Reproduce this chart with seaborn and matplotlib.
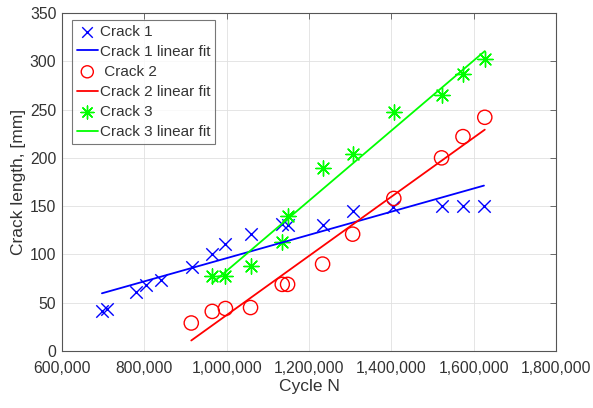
import numpy as np
import pandas as pd
import matplotlib
matplotlib.use("Agg")
import matplotlib.pyplot as plt
import matplotlib.ticker as mticker
import seaborn as sns

crack1_n = [697000, 710000, 780000, 804000, 841000, 916000, 965000, 997000, 1060000,
            1135000, 1148000, 1233000, 1306000, 1403000, 1522000, 1574000, 1625000]
crack1_len = [41, 43, 61, 68, 74, 87, 100, 111, 121, 131, 130, 130, 145, 149, 150, 150, 150]

crack2_n = [914000, 965000, 997000, 1058000, 1135000, 1148000, 1233000, 1306000,
            1406000, 1522000, 1574000, 1627000]
crack2_len = [29, 41, 44, 45, 69, 69, 90, 121, 158, 200, 222, 242]

crack3_n = [965000, 997000, 1060000, 1135000, 1148000, 1233000, 1306000, 1406000,
            1522000, 1574000, 1627000]
crack3_len = [78, 78, 88, 113, 140, 190, 204, 247, 265, 287, 302]

x_ticks = [600000, 800000, 1000000, 1200000, 1400000, 1600000, 1800000]
y_ticks = [0, 50, 100, 150, 200, 250, 300, 350]

sns.set_theme(style="white")
plt.rcParams['font.family'] = ['Liberation Sans', 'DejaVu Sans']

TXT = "#333333"
fig = plt.figure(figsize=(5.93, 4.08), dpi=100)
ax = fig.add_axes([62/593, (408-351)/408, (556-62)/593, (351-13)/408])

series = [
    ("Crack 1", "Crack 1", crack1_n, crack1_len, "#0000ff", "x", 80),
    (" Crack 2", "Crack 2", crack2_n, crack2_len, "#ff0000", "o", 105),
    ("Crack 3", "Crack 3", crack3_n, crack3_len, "#00ff00", (8, 2, 0), 120),
]

for lab, name, xs, ys, col, mk, s in series:
    df = pd.DataFrame({"n": xs, "len": ys})
    if mk == "o":
        sns.scatterplot(data=df, x="n", y="len", ax=ax, marker="o", s=s,
                        facecolors="none", edgecolor=col, linewidth=1.0, label=lab)
    else:
        sns.scatterplot(data=df, x="n", y="len", ax=ax, marker=mk, s=s,
                        color=col, linewidth=1.0, label=lab)
    k, b = np.polyfit(np.array(xs, float), np.array(ys, float), 1)
    xf = np.array([min(xs), max(xs)], float)
    fit = pd.DataFrame({"n": xf, "len": k * xf + b})
    sns.lineplot(data=fit, x="n", y="len", ax=ax, color=col, linewidth=1.3,
                 label=name + " linear fit")

ax.set_xlim(600000, 1800000)
ax.set_ylim(0, 350)
ax.set_xticks(x_ticks)
ax.set_yticks(y_ticks)
ax.xaxis.set_major_formatter(mticker.FuncFormatter(lambda v, p: f"{int(v):,}"))
ax.tick_params(direction="in", top=True, right=True, length=4, width=0.6,
               color="#555555", labelsize=11.3, labelcolor=TXT)
ax.tick_params(axis="x", pad=7)
ax.tick_params(axis="y", pad=4)
ax.grid(True, color="#e0e0e0", linewidth=0.6)
for sp in ax.spines.values():
    sp.set_color("#555555")
    sp.set_linewidth(0.8)
ax.set_xlabel("Cycle N", fontsize=12.5, color=TXT, labelpad=2)
ax.set_ylabel("Crack length, [mm]", fontsize=12.5, color=TXT, labelpad=3)

leg = ax.legend(loc="upper left", bbox_to_anchor=(10/494, 1 - 7/338), fontsize=11,
                frameon=True, fancybox=False, edgecolor="#555555",
                handlelength=1.4, handletextpad=0.15, borderpad=0.3,
                labelspacing=0.4, borderaxespad=0.0, markerscale=0.85)
leg.get_frame().set_linewidth(0.8)
for t in leg.get_texts():
    t.set_color(TXT)

fig.savefig("out.png", dpi=100)
